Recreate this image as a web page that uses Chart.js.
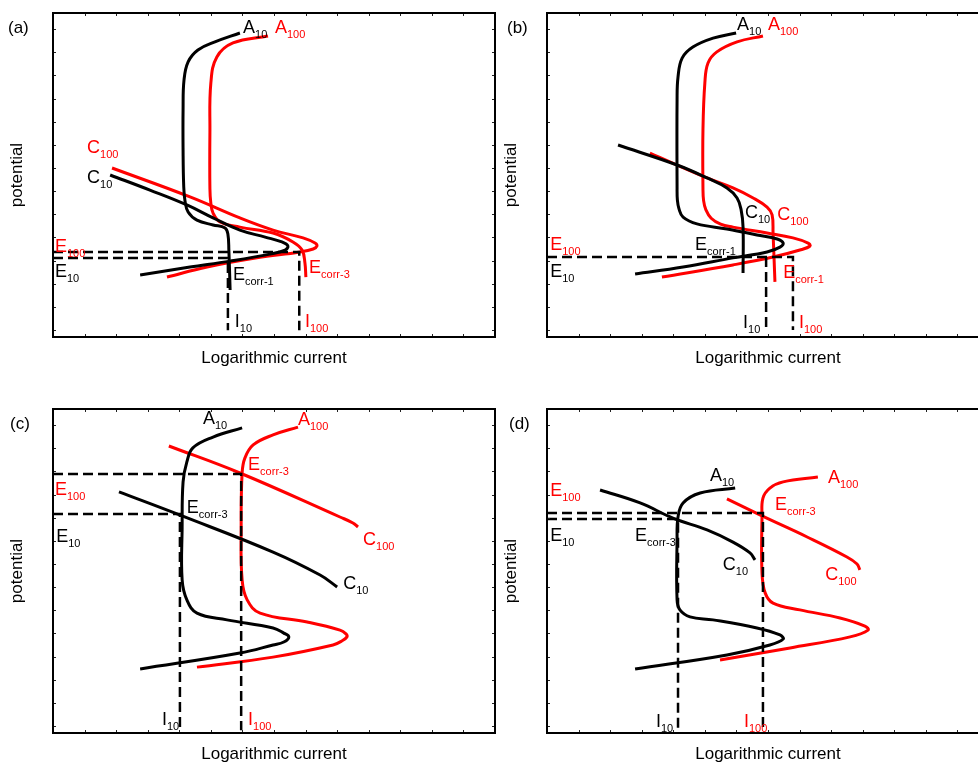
<!DOCTYPE html>
<html>
<head>
<meta charset="utf-8">
<script src="https://cdn.jsdelivr.net/npm/chart.js@4/dist/chart.umd.min.js"></script>
<style>
  html, body { margin: 0; padding: 0; background: #fff; overflow: hidden; }
  body { width: 978px; height: 762px; position: relative; }
  canvas { position: absolute; }
</style>
</head>
<body>
<canvas id="chartA" width="500" height="390" style="left:0;top:0"></canvas>
<canvas id="chartB" width="500" height="390" style="left:494px;top:0"></canvas>
<canvas id="chartC" width="500" height="366" style="left:0;top:396px"></canvas>
<canvas id="chartD" width="500" height="366" style="left:494px;top:396px"></canvas>
<script>
// x = logarithmic current, y = potential (arbitrary units, no tick labels)

// (a)
var aA10 = [[5.92,11.26],[5.13,10.93],[4.59,10.63],[4.28,10.19],[4.15,9.52],[4.12,8.41],[4.12,6.93],[4.14,5.60],[4.18,5.05],[4.28,4.63],[4.56,4.33],[5.07,4.15],[5.45,4.04],[5.54,3.81],[5.57,3.22],[5.61,1.74]];
var aA100 = [[6.81,11.15],[5.70,10.89],[5.19,10.37],[5.00,9.41],[4.97,7.56],[4.97,5.50],[5.00,4.95],[5.07,4.59],[5.29,4.26],[5.92,4.07],[6.97,3.85],[7.60,3.52],[7.89,3.22],[7.98,2.74],[8.01,2.22]];
var aC10 = [[1.81,6.00],[3.07,5.44],[4.24,4.89],[5.07,4.41],[5.92,3.96],[6.72,3.70],[7.25,3.52],[7.44,3.37],[7.35,3.22],[6.87,3.07],[5.61,2.81],[4.34,2.59],[2.76,2.30]];
var aC100 = [[1.87,6.26],[4.34,5.19],[5.92,4.41],[6.97,3.96],[7.92,3.67],[8.30,3.48],[8.36,3.37],[8.24,3.26],[7.82,3.15],[6.46,2.93],[4.88,2.59],[3.61,2.22]];
var aGuide100 = [[0,3.15],[7.8,3.15],[7.8,0.25]];
var aGuide10 = [[0,2.93],[5.54,2.93],[5.54,0.25]];
var aLabels = [
  ["A","10","#000",6.02,11.26], ["A","100","#f00",7.03,11.26],
  ["C","100","#f00",1.08,6.81], ["C","10","#000",1.08,5.70],
  ["E","100","#f00",0.06,3.15], ["E","10","#000",0.06,2.22],
  ["E","corr-1","#000",5.70,2.11], ["E","corr-3","#f00",8.11,2.37],
  ["I","10","#000",5.76,0.37], ["I","100","#f00",7.98,0.37]
];

// (b)
var bA10 = [[5.99,11.26],[5.26,11.07],[4.62,10.74],[4.28,10.33],[4.15,9.63],[4.12,8.78],[4.12,5.50],[4.13,5.07],[4.18,4.75],[4.31,4.44],[4.75,4.19],[5.70,4.00],[6.65,3.78],[7.29,3.63],[7.48,3.48],[7.38,3.33],[6.97,3.15],[5.89,2.93],[4.31,2.59],[2.79,2.33]];
var bA100 = [[6.84,11.15],[6.02,10.93],[5.38,10.56],[5.10,10.15],[5.00,9.41],[4.94,7.67],[4.94,5.50],[4.96,5.05],[5.03,4.72],[5.20,4.40],[5.50,4.18],[5.89,4.07],[6.97,3.85],[7.79,3.67],[8.27,3.48],[8.33,3.37],[8.01,3.22],[7.16,2.96],[5.89,2.67],[3.64,2.22]];
var bC10 = [[2.25,7.11],[4.12,6.37],[5.07,5.89],[5.70,5.52],[6.02,5.15],[6.15,4.70],[6.21,4.07],[6.21,2.37]];
var bC100 = [[3.26,6.81],[5.07,5.89],[5.89,5.52],[6.53,5.15],[6.97,4.81],[7.13,4.52],[7.16,3.85],[7.22,2.04]];
var bGuide100 = [[0,2.96],[7.79,2.96],[7.79,0.26]];
var bGuide10 = [[6.94,2.96],[6.94,0.26]];
var bLabels = [
  ["A","10","#000",6.02,11.37], ["A","100","#f00",7.00,11.37],
  ["C","10","#000",6.27,4.41], ["C","100","#f00",7.29,4.33],
  ["E","corr-1","#000",4.69,3.22], ["E","corr-1","#f00",7.48,2.19],
  ["E","100","#f00",0.1,3.22], ["E","10","#000",0.1,2.22],
  ["I","10","#000",6.21,0.33], ["I","100","#f00",7.98,0.33]
];

// (c)
var cA10 = [[5.99,11.30],[5.07,10.96],[4.43,10.56],[4.24,10.04],[4.12,9.30],[4.09,7.59],[4.09,5.67],[4.24,4.93],[4.56,4.44],[5.51,4.19],[6.97,3.89],[7.31,3.70],[7.47,3.56],[7.31,3.37],[6.97,3.26],[5.92,2.96],[2.76,2.37]];
var cA100 = [[7.76,11.33],[6.97,11.04],[6.34,10.67],[6.08,10.19],[5.99,9.63],[5.96,7.59],[5.99,5.67],[6.15,4.93],[6.56,4.44],[8.05,4.11],[9.09,3.81],[9.28,3.67],[9.31,3.56],[9.15,3.41],[8.87,3.26],[6.97,2.81],[4.56,2.44]];
var cC10 = [[2.09,8.93],[4.09,8.04],[6.97,6.70],[8.46,5.85],[9.00,5.41]];
var cC100 = [[3.67,10.63],[5.92,9.63],[9.09,8.00],[9.50,7.78],[9.66,7.63]];
var cGuide100 = [[0,9.59],[5.96,9.59],[5.96,0.1]];
var cGuide10 = [[0,8.11],[4.02,8.11],[4.02,0.1]];
var cLabels = [
  ["A","10","#000",4.75,11.44], ["A","100","#f00",7.76,11.41],
  ["E","corr-3","#f00",6.18,9.74], ["E","100","#f00",0.06,8.81],
  ["E","corr-3","#000",4.24,8.15], ["E","10","#000",0.1,7.07],
  ["C","100","#f00",9.82,6.96], ["C","10","#000",9.19,5.33],
  ["I","10","#000",3.45,0.30], ["I","100","#f00",6.18,0.30]
];

// (d)
var dA10 = [[5.96,9.07],[4.85,8.89],[4.31,8.52],[4.15,8.00],[4.12,7.15],[4.12,4.93],[4.21,4.56],[4.53,4.30],[5.26,4.19],[6.65,3.89],[7.38,3.63],[7.48,3.48],[7.06,3.26],[5.70,2.89],[2.79,2.37]];
var dA100 = [[8.58,9.48],[7.48,9.30],[7.06,9.07],[6.84,8.70],[6.81,8.00],[6.81,5.93],[6.91,5.19],[7.16,4.81],[8.01,4.56],[9.28,4.26],[10.07,3.96],[10.17,3.81],[9.60,3.56],[7.70,3.15],[5.48,2.70]];
var dC10 = [[1.68,9.00],[2.95,8.52],[3.99,7.96],[5.07,7.52],[5.89,7.07],[6.43,6.67],[6.59,6.41]];
var dC100 = [[5.70,8.67],[6.81,8.04],[8.24,7.26],[9.50,6.52],[9.82,6.26],[9.91,6.04]];
var dGuide100 = [[0,8.15],[6.84,8.15],[6.84,0.1]];
var dGuide10 = [[0,7.93],[4.15,7.93],[4.15,0.1]];
var dLabels = [
  ["E","100","#f00",0.1,8.78], ["E","10","#000",0.1,7.11],
  ["A","10","#000",5.16,9.33], ["A","100","#f00",8.90,9.26],
  ["E","corr-3","#f00",7.22,8.26], ["E","corr-3","#000",2.79,7.11],
  ["C","10","#000",5.57,6.04], ["C","100","#f00",8.81,5.67],
  ["I","10","#000",3.45,0.22], ["I","100","#f00",6.24,0.22]
];

var FONT = '"Liberation Sans", Arial, Helvetica, sans-serif';
var Y_TICK_START = 0.26;
var Y_TICK_STEP = 12 / 14;

function toXY(points) {
  return points.map(function (p) { return { x: p[0], y: p[1] }; });
}

function decor(labels, tag, tagX) {
  return {
    id: "decor",
    afterDatasetsDraw: function (chart) {
      var ctx = chart.ctx;
      var a = chart.chartArea;
      var xs = chart.scales.x;
      var ys = chart.scales.y;
      ctx.save();

      // inward tick marks on all four sides
      ctx.strokeStyle = "#222";
      ctx.lineWidth = 1;
      ctx.beginPath();
      for (var v = 1; v < 14; v++) {
        var px = Math.round(xs.getPixelForValue(v)) + 0.5;
        ctx.moveTo(px, a.top); ctx.lineTo(px, a.top + 3);
        ctx.moveTo(px, a.bottom); ctx.lineTo(px, a.bottom - 3);
      }
      for (var k = 0; k < 14; k++) {
        var py = Math.round(ys.getPixelForValue(Y_TICK_START + k * Y_TICK_STEP)) + 0.5;
        ctx.moveTo(a.left, py); ctx.lineTo(a.left + 3, py);
        ctx.moveTo(a.right, py); ctx.lineTo(a.right - 3, py);
      }
      ctx.stroke();

      // frame
      ctx.strokeStyle = "#000";
      ctx.lineWidth = 2;
      ctx.strokeRect(a.left, a.top, a.right - a.left, a.bottom - a.top);

      // curve labels with subscripts
      ctx.textBaseline = "alphabetic";
      ctx.textAlign = "left";
      labels.forEach(function (l) {
        var x = xs.getPixelForValue(l[3]);
        var y = ys.getPixelForValue(l[4]);
        ctx.fillStyle = l[2];
        ctx.font = "18px " + FONT;
        ctx.fillText(l[0], x, y);
        var w = ctx.measureText(l[0]).width;
        ctx.font = "11px " + FONT;
        ctx.fillText(l[1], x + w, y + 5);
      });

      // axis titles and panel tag
      ctx.fillStyle = "#000";
      ctx.font = "17px " + FONT;
      ctx.textAlign = "center";
      ctx.fillText("Logarithmic current", (a.left + a.right) / 2, a.bottom + 26);
      ctx.save();
      ctx.translate(a.left - 36, (a.top + a.bottom) / 2);
      ctx.rotate(-Math.PI / 2);
      ctx.textBaseline = "middle";
      ctx.fillText("potential", 0, 0);
      ctx.restore();
      ctx.textAlign = "left";
      ctx.fillText(tag, tagX, 33);

      ctx.restore();
    }
  };
}

function makePanel(id, curves, guides, labels, tag, tagX) {
  var canvas = document.getElementById(id);
  var datasets = [];
  guides.forEach(function (g) {
    datasets.push({
      data: toXY(g),
      borderColor: "#000",
      borderWidth: 2.5,
      borderDash: [10, 5],
      showLine: true,
      pointRadius: 0,
      tension: 0,
      order: 0
    });
  });
  curves.forEach(function (c) {
    datasets.push({
      data: toXY(c[0]),
      borderColor: c[1],
      borderWidth: 3,
      borderJoinStyle: "round",
      showLine: true,
      pointRadius: 0,
      tension: 0.4,
      order: 1
    });
  });

  new Chart(canvas, {
    type: "scatter",
    data: { datasets: datasets },
    options: {
      responsive: false,
      animation: false,
      layout: { padding: { left: 53, top: 13, right: 5, bottom: canvas.height - 337 } },
      scales: {
        x: { type: "linear", min: 0, max: 14, display: false },
        y: { type: "linear", min: 0, max: 12, display: false }
      },
      plugins: {
        legend: { display: false },
        tooltip: { enabled: false }
      }
    },
    plugins: [decor(labels, tag, tagX)]
  });
}

makePanel("chartA", [[aC10, "#000"], [aA10, "#000"], [aC100, "#f00"], [aA100, "#f00"]],
  [aGuide100, aGuide10], aLabels, "(a)", 8);
makePanel("chartB", [[bC10, "#000"], [bA10, "#000"], [bC100, "#f00"], [bA100, "#f00"]],
  [bGuide100, bGuide10], bLabels, "(b)", 13);
makePanel("chartC", [[cC10, "#000"], [cA10, "#000"], [cC100, "#f00"], [cA100, "#f00"]],
  [cGuide100, cGuide10], cLabels, "(c)", 10);
makePanel("chartD", [[dC10, "#000"], [dA10, "#000"], [dC100, "#f00"], [dA100, "#f00"]],
  [dGuide100, dGuide10], dLabels, "(d)", 15);
</script>
</body>
</html>
